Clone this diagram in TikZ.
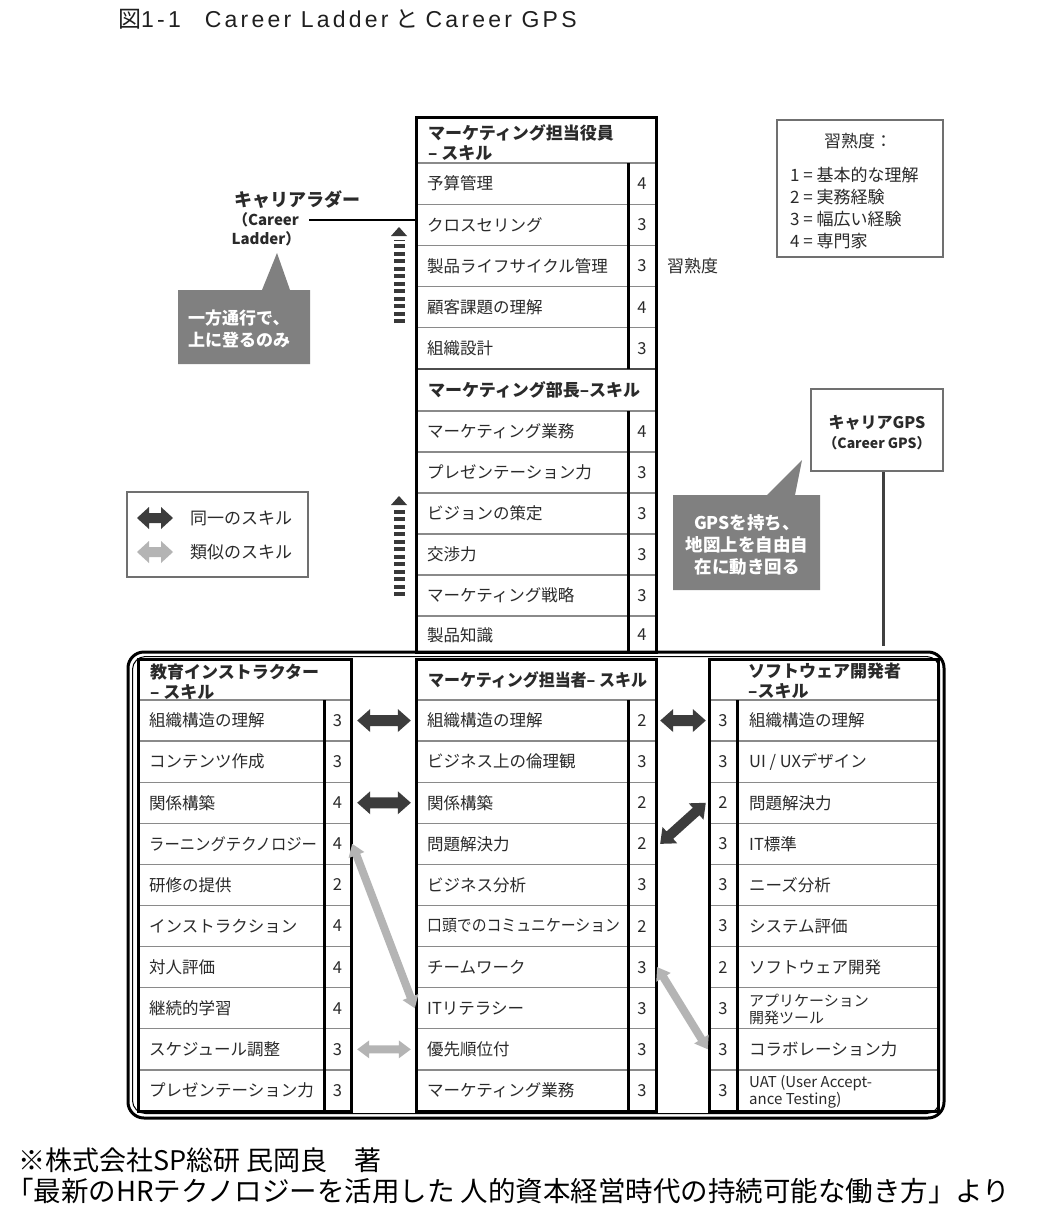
\documentclass[tikz,border=0pt]{standalone}
\usepackage{fontspec}
\setmainfont{Noto Sans CJK JP}
\newfontfamily\titlelat[LetterSpace=14]{Liberation Sans}
\usetikzlibrary{calc}
\definecolor{txt}{HTML}{2A2A2A}
\definecolor{rulec}{HTML}{8A8A8A}
\definecolor{darkarr}{HTML}{3C3C3C}
\definecolor{lightarr}{HTML}{B4B4B4}
\definecolor{calloutc}{HTML}{808080}
\definecolor{boxline}{HTML}{707070}
\newcommand\fsz[2]{\fontsize{#1}{#2}\selectfont}
\tikzset{
  skilltxt/.style={anchor=west, inner sep=0pt, text=txt, font=\fsz{16.5}{18}},
  smalltxt/.style={anchor=west, inner sep=0pt, text=txt, font=\fsz{15}{17}, align=left},
  numtxt/.style={inner sep=0pt, text=txt, font=\fsz{16.5}{18}},
  hdrtxt/.style={anchor=west, inner sep=0pt, text=txt, font=\bfseries\fsz{17}{20}, align=left},
  rowbox/.style={inner sep=0pt, draw=none, minimum height=41pt},
  sepline/.style={draw=rulec, line width=1.3pt},
  framel/.style={draw=black, line width=3pt},
  darkarrow/.style={fill=darkarr},
  lightarrow/.style={fill=lightarr},
  calloutbox/.style={fill=calloutc},
  callouttxt/.style={inner sep=0pt, text=white, font=\bfseries\fsz{17}{22}},
  infobox/.style={draw=boxline, line width=1.5pt, inner sep=0pt},
  infotxt/.style={inner sep=0pt, text=txt, font=\fsz{17}{22}},
  ladderdash/.style={draw=black!78, line width=11pt, dash pattern=on 4pt off 3.5pt},
}
% row with number on the right
\newcommand\rowLR[7]{%
  \node[rowbox, minimum width={(#4-#2)*1pt}] (#1) at ({(#2+#4)/2},#5) {};
  \node[skilltxt] (#1t) at ({#2+11},#5) {#6};
  \node[numtxt] (#1n) at ({(#3+#4)/2},#5) {#7};
}
% row with number on the left
\newcommand\rowRL[7]{%
  \node[rowbox, minimum width={(#4-#2)*1pt}] (#1) at ({(#2+#4)/2},#5) {};
  \node[numtxt] (#1n) at ({(#2+#3)/2},#5) {#7};
  \node[skilltxt] (#1t) at ({#3+12},#5) {#6};
}
% double-headed block arrow: from, to, style, shaft half width, head half width, head length
\newcommand\dblarrow[6]{%
  \path let \p1=(#1), \p2=(#2), \n1={atan2(\y2-\y1,\x2-\x1)}, \n2={veclen(\x2-\x1,\y2-\y1)} in
    \pgfextra{\pgfmathparse{\n1}\xdef\daA{\pgfmathresult}%
      \pgfmathparse{\n2}\xdef\daL{\pgfmathresult}%
      \pgfmathparse{\x1}\xdef\daX{\pgfmathresult}%
      \pgfmathparse{\y1}\xdef\daY{\pgfmathresult}};
  \begin{scope}[shift={(\daX pt,\daY pt)}, rotate=\daA, x=1pt, y=1pt]
    \fill[#3] (0,0) -- (#6,#5) -- (#6,#4) -- ({\daL-#6},#4) -- ({\daL-#6},#5) -- (\daL,0)
      -- ({\daL-#6},-#5) -- ({\daL-#6},-#4) -- (#6,-#4) -- (#6,-#5) -- cycle;
  \end{scope}}
\begin{document}
\begin{tikzpicture}[x=1pt,y=-1pt]
\useasboundingbox (0,0) rectangle (1051,1217);
\fill[white] (0,0) rectangle (1051,1217);

% title
\node[anchor=west, inner sep=0pt, text=black!88, font=\fsz{23}{24}] (title) at (118,19)
  {図{\titlelat 1-1}\hspace{24pt}{\titlelat Career\ Ladder}\hspace{7pt}と\hspace{7pt}{\titlelat Career\ GPS}};

% ---------- big rounded frame ----------
\draw[line width=3pt, rounded corners=16pt] (128,652) rectangle (944,1118);
\draw[line width=1pt, rounded corners=13pt] (132.5,656.5) rectangle (939.5,1113.5);

% ---------- top middle column ----------
\node[inner sep=0pt, minimum width=240pt, minimum height=534pt] (topcol) at (536,385) {};
\foreach \yy in {163,204.2,245.4,286.6,327.8,411,452,493,534,575,616}
  \draw[sepline] (416,\yy) -- (656,\yy);
\draw[draw=black!70, line width=1.8pt] (416,369) -- (656,369);
\node[hdrtxt] (h1) at (428,143) {マーケティング担当役員\\– スキル};
\rowLR{T1}{416}{628}{656}{183.6}{予算管理}{4}
\rowLR{T2}{416}{628}{656}{224.8}{クロスセリング}{3}
\rowLR{T3}{416}{628}{656}{266.0}{製品ライフサイクル管理}{3}
\rowLR{T4}{416}{628}{656}{307.2}{顧客課題の理解}{4}
\rowLR{T5}{416}{628}{656}{348.4}{組織設計}{3}
\node[hdrtxt] (h2) at (428,390) {マーケティング部長–スキル};
\rowLR{S1}{416}{628}{656}{431.5}{マーケティング業務}{4}
\rowLR{S2}{416}{628}{656}{472.5}{プレゼンテーション力}{3}
\rowLR{S3}{416}{628}{656}{513.5}{ビジョンの策定}{3}
\rowLR{S4}{416}{628}{656}{554.5}{交渉力}{3}
\rowLR{S5}{416}{628}{656}{595.5}{マーケティング戦略}{3}
\rowLR{S6}{416}{628}{656}{635}{製品知識}{4}
\draw[framel] (628,163) -- (628,369) (628,411) -- (628,652);
\draw[framel] (416,118) rectangle (656,652);

% ---------- bottom columns: separators ----------
\foreach \yy in {700,741.1,782.2,823.3,864.4,905.5,946.6,987.7,1028.8,1069.9}{
  \draw[sepline] (138,\yy) -- (351,\yy);
  \draw[sepline] (416,\yy) -- (656,\yy);
  \draw[sepline] (709,\yy) -- (938,\yy);
}

% left column
\node[hdrtxt] (hl) at (150,682) {教育インストラクター\\– スキル};
\rowLR{L1}{138}{324}{351}{720.55}{組織構造の理解}{3}
\rowLR{L2}{138}{324}{351}{761.65}{コンテンツ作成}{3}
\rowLR{L3}{138}{324}{351}{802.75}{関係構築}{4}
\rowLR{L4}{138}{324}{351}{843.85}{\scalebox{0.93}[1]{ラーニングテクノロジー}}{4}
\rowLR{L5}{138}{324}{351}{884.95}{研修の提供}{2}
\rowLR{L6}{138}{324}{351}{926.05}{インストラクション}{4}
\rowLR{L7}{138}{324}{351}{967.15}{対人評価}{4}
\rowLR{L8}{138}{324}{351}{1008.25}{継続的学習}{4}
\rowLR{L9}{138}{324}{351}{1049.35}{スケジュール調整}{3}
\rowLR{L10}{138}{324}{351}{1090.45}{プレゼンテーション力}{3}

% middle bottom column
\node[hdrtxt] (hm) at (428,680) {\scalebox{0.94}[1]{マーケティング担当者– スキル}};
\rowLR{M1}{416}{628}{656}{720.55}{組織構造の理解}{2}
\rowLR{M2}{416}{628}{656}{761.65}{ビジネス上の倫理観}{3}
\rowLR{M3}{416}{628}{656}{802.75}{関係構築}{2}
\rowLR{M4}{416}{628}{656}{843.85}{問題解決力}{2}
\rowLR{M5}{416}{628}{656}{884.95}{ビジネス分析}{3}
\rowLR{M6}{416}{628}{656}{926.05}{\scalebox{0.9}[1]{口頭でのコミュニケーション}}{2}
\rowLR{M7}{416}{628}{656}{967.15}{チームワーク}{3}
\rowLR{M8}{416}{628}{656}{1008.25}{ITリテラシー}{3}
\rowLR{M9}{416}{628}{656}{1049.35}{優先順位付}{3}
\rowLR{M10}{416}{628}{656}{1090.45}{マーケティング業務}{3}

% right column
\node[hdrtxt] (hr) at (748,681) {ソフトウェア開発者\\–スキル};
\rowRL{R1}{709}{737}{938}{720.55}{組織構造の理解}{3}
\rowRL{R2}{709}{737}{938}{761.65}{UI / UXデザイン}{3}
\rowRL{R3}{709}{737}{938}{802.75}{問題解決力}{2}
\rowRL{R4}{709}{737}{938}{843.85}{IT標準}{3}
\rowRL{R5}{709}{737}{938}{884.95}{ニーズ分析}{3}
\rowRL{R6}{709}{737}{938}{926.05}{システム評価}{3}
\rowRL{R7}{709}{737}{938}{967.15}{ソフトウェア開発}{2}
\node[rowbox, minimum width=229pt] (R8) at (823.5,1008.25) {};
\node[numtxt] (R8n) at (723,1008.25) {3};
\node[smalltxt] (R8t) at (749,1009) {アプリケーション\\開発ツール};
\rowRL{R9}{709}{737}{938}{1049.35}{コラボレーション力}{3}
\node[rowbox, minimum width=229pt] (R10) at (823.5,1090.45) {};
\node[numtxt] (R10n) at (723,1090.45) {3};
\node[smalltxt] (R10t) at (749,1092) {UAT (User Accept-\\ance Testing)};

% column frames
\draw[framel] (138,659) rectangle (351,1111);
\draw[framel] (324,700) -- (324,1111);
\draw[framel] (416,659) rectangle (656,1111);
\draw[framel] (628,700) -- (628,1111);
\draw[framel] (709,659) rectangle (938,1111);
\draw[framel] (737,700) -- (737,1111);

% ---------- skill arrows ----------
\dblarrow{[xshift=6pt]L1.east}{[xshift=-5pt]M1.west}{darkarrow}{5.5}{11.5}{13}
\dblarrow{[xshift=6pt]L3.east}{[xshift=-5pt]M3.west}{darkarrow}{5.5}{11.5}{13}
\dblarrow{[xshift=4pt]M1.east}{[xshift=-3pt]R1.west}{darkarrow}{5.5}{11.5}{13}
\dblarrow{[xshift=4pt]M4.east}{[xshift=-3pt]R3.west}{darkarrow}{5}{11}{13}
\dblarrow{[xshift=1pt]L4.east}{[xshift=-1pt]M8.west}{lightarrow}{4}{8.5}{12}
\dblarrow{[xshift=6pt]L9.east}{[xshift=-5pt]M9.west}{lightarrow}{4}{9}{12}
\dblarrow{[xshift=1pt]M7.east}{[xshift=-1pt]R9.west}{lightarrow}{4}{8.5}{12}

% ---------- career ladder ----------
\node[inner sep=0pt, text=txt, font=\bfseries\fsz{18}{20}] (cl) at (297,200) {キャリアラダー};
\node[inner sep=0pt, text=txt, font=\bfseries\fsz{15}{18}] (clen1) at (266,220) {（Career};
\node[inner sep=0pt, text=txt, font=\bfseries\fsz{15}{18}] (clen2) at (266,239) {Ladder）};
\draw[line width=2.5pt] ([xshift=10pt]clen1.east) -- (clen1.east -| topcol.west);

% ladder arrows
\draw[ladderdash] (399,323) -- (399,240);
\fill[black!78] (391,236) -- (399,227) -- (407,236) -- cycle;
\draw[ladderdash] (399,596) -- (399,509);
\fill[black!78] (391,505) -- (399,496) -- (407,505) -- cycle;

% left callout
\fill[calloutbox] (178,290) -- (262,290) -- (277,253) -- (290,290) -- (310,290) -- (310,364) -- (178,364) -- cycle;
\node[callouttxt, anchor=west, align=left] (c1) at (188,329) {一方通行で、\\上に登るのみ};

% proficiency legend
\node[infobox, minimum width=166pt, minimum height=137pt] (lvl) at (860,188.5) {};
\node[infotxt] (lvlh) at (858,141) {習熟度：};
\node[infotxt, anchor=west] (lv1) at (790,175) {1 = 基本的な理解};
\node[infotxt, anchor=west] (lv2) at (790,197) {2 = 実務経験};
\node[infotxt, anchor=west] (lv3) at (790,219) {3 = 幅広い経験};
\node[infotxt, anchor=west] (lv4) at (790,241) {4 = 専門家};
\node[infotxt, anchor=west] (lvlab) at (667,266) {習熟度};

% arrow legend
\node[infobox, minimum width=181pt, minimum height=85pt] (arrleg) at (217.5,534.5) {};
\coordinate (la1) at (137,518);
\coordinate (la2) at (173,518);
\coordinate (lb1) at (137,552);
\coordinate (lb2) at (173,552);
\dblarrow{la1}{la2}{darkarrow}{5}{11}{12}
\dblarrow{lb1}{lb2}{lightarrow}{5}{11}{12}
\node[infotxt, anchor=west] (lg1) at (190,518) {同一のスキル};
\node[infotxt, anchor=west] (lg2) at (190,552) {類似のスキル};

% career GPS
\node[infobox, minimum width=132pt, minimum height=82pt] (gps) at (877,430) {};
\node[inner sep=0pt, text=txt, font=\bfseries\fsz{16}{18}] (gps1) at (877,423) {キャリアGPS};
\node[inner sep=0pt, text=txt, font=\bfseries\fsz{14}{18}] (gps2) at (877,443) {（Career GPS）};
\coordinate (gpsend) at (883,646);
\draw[line width=3pt, draw=black!75] (gps.south -| gpsend) -- (gpsend);

% GPS callout
\fill[calloutbox] (673,495) -- (767,495) -- (802,460) -- (795,495) -- (820,495) -- (820,590) -- (673,590) -- cycle;
\node[callouttxt, align=center, font=\bfseries\fsz{17.5}{22}] (c2) at (747,545) {GPSを持ち、\\地図上を自由自\\在に動き回る};

% footer
\node[anchor=west, inner sep=0pt, text=black, font=\fsz{27}{30}] (f1) at (18,1160) {※株式会社SP総研 民岡良　著};
\node[anchor=west, inner sep=0pt, text=black, font=\fsz{27.5}{30}] (f2) at (6,1191) {「最新のHRテクノロジーを活用した 人的資本経営時代の持続可能な働き方」より};
\end{tikzpicture}
\end{document}
